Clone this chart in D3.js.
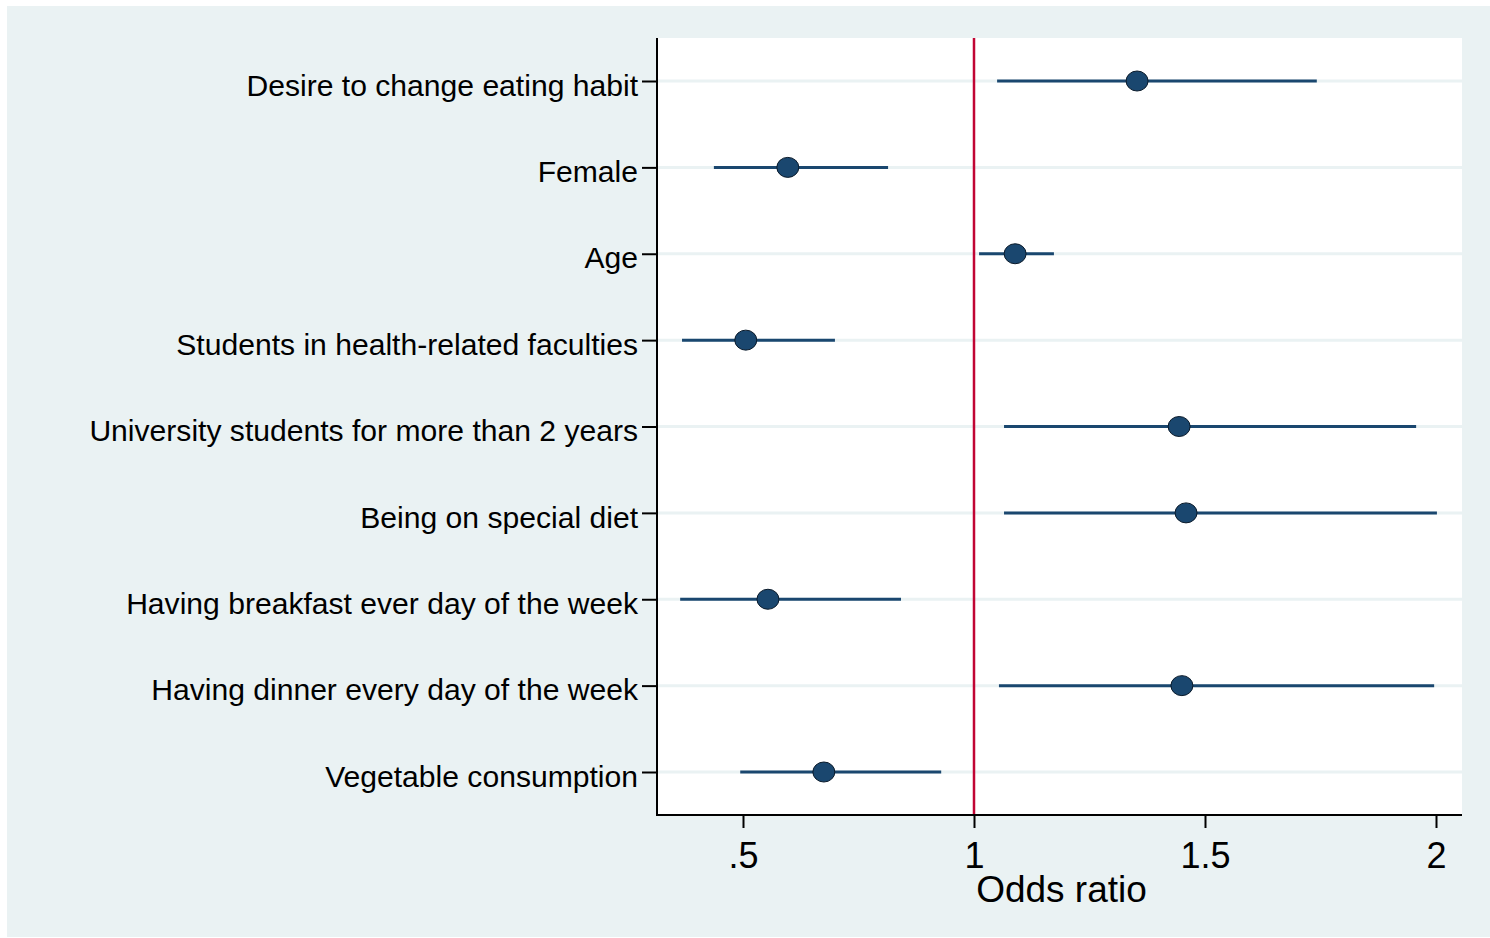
<!DOCTYPE html>
<html><head><meta charset="utf-8">
<script src="https://cdn.jsdelivr.net/npm/d3@7"></script>
<style>html,body{margin:0;padding:0;background:#fff;}svg{display:block;font-family:Arial,"Liberation Sans",sans-serif;}</style>
</head><body>
<svg id="chart" width="1490" height="938"></svg>
<script>
const categories = [
  "Desire to change eating habit",
  "Female",
  "Age",
  "Students in health-related faculties",
  "University students for more than 2 years",
  "Being on special diet",
  "Having breakfast ever day of the week",
  "Having dinner every day of the week",
  "Vegetable consumption"
];
const oddsRatio = [1.353, 0.597, 1.089, 0.506, 1.444, 1.459, 0.554, 1.450, 0.675];
const ciLower   = [1.050, 0.437, 1.011, 0.368, 1.065, 1.065, 0.364, 1.054, 0.494];
const ciUpper   = [1.742, 0.814, 1.173, 0.699, 1.957, 2.002, 0.842, 1.996, 0.929];
const xTicks = [0.5, 1, 1.5, 2];
const xTickLabels = [".5", "1", "1.5", "2"];
const xTitle = "Odds ratio";
const refValue = 1;

const svg = d3.select("#chart");
const plot = {left: 657, right: 1462, top: 38, bottom: 815};

svg.append("rect").attr("x", 7).attr("y", 6).attr("width", 1483).attr("height", 931).attr("fill", "#eaf2f3");
svg.append("rect").attr("x", plot.left).attr("y", plot.top).attr("width", plot.right - plot.left).attr("height", plot.bottom - plot.top).attr("fill", "#fff");

const x = d3.scaleLinear().domain([0.5, 2]).range([743, 1436]);
const y = d3.scalePoint().domain(categories).range([81, 772]);

// gridlines
svg.append("g").selectAll("line").data(categories).join("line")
  .attr("x1", plot.left).attr("x2", plot.right)
  .attr("y1", d => y(d)).attr("y2", d => y(d))
  .attr("stroke", "#eaf2f3").attr("stroke-width", 3);

// reference line
svg.append("line").attr("x1", x(refValue)).attr("x2", x(refValue))
  .attr("y1", plot.top).attr("y2", plot.bottom)
  .attr("stroke", "#c10534").attr("stroke-width", 2.5);

// CIs
const data = categories.map((c, i) => ({c, or: oddsRatio[i], lo: ciLower[i], hi: ciUpper[i]}));
svg.append("g").selectAll("line").data(data).join("line")
  .attr("x1", d => x(d.lo)).attr("x2", d => x(d.hi))
  .attr("y1", d => y(d.c)).attr("y2", d => y(d.c))
  .attr("stroke", "#1a476f").attr("stroke-width", 3);
svg.append("g").selectAll("ellipse").data(data).join("ellipse")
  .attr("cx", d => x(d.or)).attr("cy", d => y(d.c))
  .attr("rx", 11).attr("ry", 10)
  .attr("fill", "#1a476f").attr("stroke", "#0a1a2a").attr("stroke-width", 1);

// Y axis
const yAxis = d3.axisLeft(y).tickSize(15).tickPadding(4);
const gy = svg.append("g").attr("transform", `translate(${plot.left},0)`).call(yAxis);
gy.select(".domain").remove();
gy.append("line").attr("x1", 0).attr("x2", 0).attr("y1", plot.top).attr("y2", plot.bottom + 1).attr("stroke", "#000").attr("stroke-width", 2);
gy.selectAll(".tick line").attr("stroke", "#000").attr("stroke-width", 2);
gy.selectAll(".tick text").attr("font-size", 30.1).attr("fill", "#000").attr("font-family", "Arial, 'Liberation Sans', sans-serif").attr("dy", "0.47em");

// X axis
const xAxis = d3.axisBottom(x).tickValues(xTicks).tickFormat((d, i) => xTickLabels[i]).tickSize(13).tickPadding(14);
const gx = svg.append("g").attr("transform", `translate(0,${plot.bottom})`).call(xAxis);
gx.select(".domain").remove();
gx.append("line").attr("x1", plot.left - 1).attr("x2", plot.right).attr("y1", 0).attr("y2", 0).attr("stroke", "#000").attr("stroke-width", 2);
gx.selectAll(".tick line").attr("stroke", "#000").attr("stroke-width", 2);
gx.selectAll(".tick text").attr("font-size", 36).attr("fill", "#000").attr("font-family", "Arial, 'Liberation Sans', sans-serif");

svg.append("text").attr("x", (plot.left + plot.right) / 2 + 2).attr("y", 902)
  .attr("text-anchor", "middle").attr("font-size", 37).attr("fill", "#000").text(xTitle);
</script>
</body></html>
